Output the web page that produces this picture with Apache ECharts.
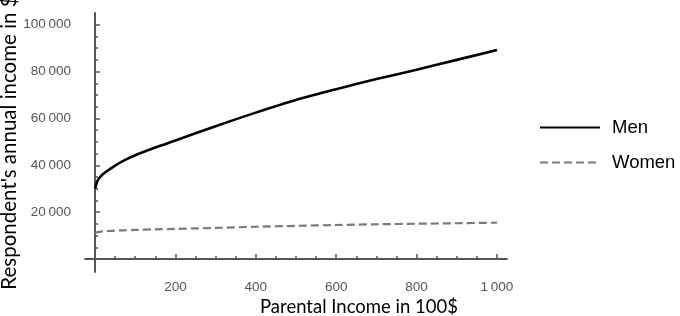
<!DOCTYPE html>
<html>
<head>
<meta charset="utf-8">
<script src="https://cdn.jsdelivr.net/npm/echarts@6/dist/echarts.min.js"></script>
<style>
  html, body { margin: 0; padding: 0; background: #fff; }
  #chart { width: 680px; height: 316px; }
</style>
</head>
<body>
<div id="chart"></div>
<script>
// values
let parentalIncome = [0, 5, 10, 20, 35, 50, 75, 100, 150, 200, 300, 400, 500, 600, 700, 800, 900, 1000];
let menIncome = [30000, 33000, 34500, 36300, 38200, 39900, 42300, 44300, 47600, 50600, 56700, 62500, 67900, 72500, 76800, 80800, 85000, 89200];
let womenIncome = [11200, 11450, 11600, 11800, 12000, 12150, 12300, 12450, 12700, 12900, 13300, 13800, 14200, 14550, 14850, 15100, 15300, 15550];

let xMajorTicks = [200, 400, 600, 800, 1000];
let xMinorTicks = [50, 100, 150, 250, 300, 350, 450, 500, 550, 650, 700, 750, 850, 900, 950];
let yMajorTicks = [20000, 40000, 60000, 80000, 100000];
let yMinorTicks = [5000, 10000, 15000, 25000, 30000, 35000, 45000, 50000, 55000, 65000, 70000, 75000, 85000, 90000, 95000];

function pairs(xs, ys) {
  return xs.map(function (x, i) { return [x, ys[i]]; });
}

// 100000 -> "100 000" with a thin space
function groupDigits(v) {
  let s = String(v);
  if (s.length > 3) {
    s = s.slice(0, s.length - 3) + '\u2009' + s.slice(s.length - 3);
  }
  return s;
}

let axisColor = '#555';
let gridBox = { left: 85, right: 173, top: 13, bottom: 44, containLabel: false, outerBoundsMode: 'none' };
let xRange = { min: -25, max: 1025 };
let yRange = { min: -5500, max: 105000 };

let chart = echarts.init(document.getElementById('chart'));
let option = {
  backgroundColor: '#fff',
  animation: false,
  grid: [
    Object.assign({}, gridBox),
    Object.assign({}, gridBox)
  ],
  legend: {
    orient: 'vertical',
    left: 534,
    top: 113,
    itemWidth: 60,
    itemHeight: 18,
    itemGap: 16,
    data: ['Men', 'Women'],
    // line series put a circle on the icon, hide it
    itemStyle: { color: 'rgba(0,0,0,0)', borderWidth: 0, opacity: 0 },
    textStyle: {
      fontFamily: 'Liberation Sans',
      fontSize: 18.5,
      color: '#000',
      padding: [0, 0, 0, 7]
    }
  },
  xAxis: [
    {
      type: 'value',
      gridIndex: 0,
      min: xRange.min,
      max: xRange.max,
      name: 'Parental Income in 100$',
      nameLocation: 'middle',
      nameGap: 26,
      nameMoveOverlap: false,
      // the title sits right of the axis centre in the original
      nameTextStyle: { fontFamily: 'Lato', fontSize: 18.5, color: '#000', padding: [0, 0, 0, 126] },
      axisLine: { onZero: true, lineStyle: { color: axisColor, width: 2 } },
      axisTick: { inside: true, length: 5, customValues: xMajorTicks, lineStyle: { color: axisColor, width: 1.5 } },
      axisLabel: {
        customValues: xMajorTicks,
        margin: 8,
        fontFamily: 'Liberation Sans',
        fontSize: 13.5,
        color: '#555',
        formatter: groupDigits
      },
      splitLine: { show: false }
    },
    {
      // second axis only for the short ticks
      type: 'value',
      gridIndex: 1,
      min: xRange.min,
      max: xRange.max,
      axisLine: { show: false, onZero: true },
      axisTick: { inside: true, length: 3, customValues: xMinorTicks, lineStyle: { color: axisColor, width: 1.5 } },
      axisLabel: { show: false },
      splitLine: { show: false }
    }
  ],
  yAxis: [
    {
      type: 'value',
      gridIndex: 0,
      min: yRange.min,
      max: yRange.max,
      name: "Respondent's annual income in $",
      nameLocation: 'middle',
      nameGap: 65,
      nameMoveOverlap: false,
      nameTextStyle: { fontFamily: 'Lato', fontSize: 20.5, color: '#000' },
      axisLine: { onZero: true, lineStyle: { color: axisColor, width: 2 } },
      axisTick: { inside: true, length: 5, customValues: yMajorTicks, lineStyle: { color: axisColor, width: 1.5 } },
      axisLabel: {
        customValues: yMajorTicks,
        margin: 14,
        fontFamily: 'Liberation Sans',
        fontSize: 13.5,
        color: '#555',
        formatter: groupDigits
      },
      splitLine: { show: false }
    },
    {
      type: 'value',
      gridIndex: 1,
      min: yRange.min,
      max: yRange.max,
      axisLine: { show: false, onZero: true },
      axisTick: { inside: true, length: 3, customValues: yMinorTicks, lineStyle: { color: axisColor, width: 1.5 } },
      axisLabel: { show: false },
      splitLine: { show: false }
    }
  ],
  series: [
    {
      name: 'Men',
      type: 'line',
      xAxisIndex: 0,
      yAxisIndex: 0,
      data: pairs(parentalIncome, menIncome),
      smooth: 0.3,
      showSymbol: false,
      symbol: 'none',
      lineStyle: { color: '#000', width: 2.6 },
      itemStyle: { color: '#000' }
    },
    {
      name: 'Women',
      type: 'line',
      xAxisIndex: 0,
      yAxisIndex: 0,
      data: pairs(parentalIncome, womenIncome),
      smooth: 0.3,
      showSymbol: false,
      symbol: 'none',
      lineStyle: { color: '#7a7a7a', width: 2.2, type: [8, 4] },
      itemStyle: { color: '#7a7a7a' }
    }
  ]
};
chart.setOption(option);
</script>
</body>
</html>
